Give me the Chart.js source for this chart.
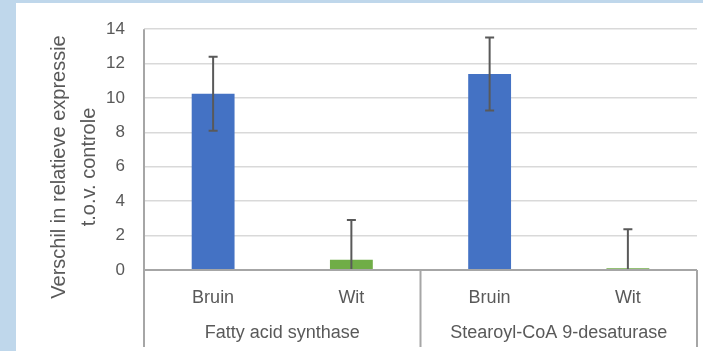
<!DOCTYPE html>
<html>
<head>
<meta charset="utf-8">
<script src="https://cdn.jsdelivr.net/npm/chart.js@4"></script>
<style>
  html, body { margin: 0; padding: 0; }
  body { width: 703px; height: 351px; background: #bfd7eb; position: relative; overflow: hidden; }
  #panel { position: absolute; left: 16px; top: 3px; right: 0; bottom: 0; background: #ffffff; }
  #wrap { position: absolute; left: 0; top: 0; width: 703px; height: 351px; }
</style>
</head>
<body>
<div id="panel"></div>
<div id="wrap"><canvas id="chart" width="703" height="351"></canvas></div>
<script>
// Relative expression difference vs. control, per gene and tissue type
const categories = ['Bruin', 'Wit', 'Bruin', 'Wit'];
const groups = ['Fatty acid synthase', 'Stearoyl-CoA 9-desaturase'];
const groupSize = 2;
const values = [10.25, 0.6, 11.4, 0.1];
const errors = [2.15, 2.3, 2.12, 2.27];
const barColors = ['#4472C4', '#70AD47', '#4472C4', '#70AD47'];
const yTicks = [0, 2, 4, 6, 8, 10, 12, 14];
const yTitle = ['Verschil in relatieve expressie', 't.o.v. controle'];

const TEXT = '#595959';
const AXIS = '#a6a6a6';
const FONT = '"Liberation Sans", Arial, sans-serif';

// Symmetric error bars, clipped to the plot area
const errorBars = {
  id: 'errorBars',
  afterDatasetsDraw(chart) {
    const ctx = chart.ctx, y = chart.scales.y, area = chart.chartArea;
    const meta = chart.getDatasetMeta(0);
    ctx.save();
    ctx.beginPath();
    ctx.rect(area.left, area.top - 2, area.right - area.left, area.bottom - area.top + 2);
    ctx.clip();
    ctx.strokeStyle = '#595959';
    ctx.lineWidth = 2;
    meta.data.forEach((bar, i) => {
      const x = bar.x;
      const hi = y.getPixelForValue(values[i] + errors[i]);
      const lo = y.getPixelForValue(values[i] - errors[i]);
      ctx.beginPath();
      ctx.moveTo(x, hi); ctx.lineTo(x, lo);
      ctx.moveTo(x - 4.5, hi); ctx.lineTo(x + 4.5, hi);
      ctx.moveTo(x - 4.5, lo); ctx.lineTo(x + 4.5, lo);
      ctx.stroke();
    });
    ctx.restore();
  }
};

// Two-level category axis, axis lines and the rotated y title
const axisDecor = {
  id: 'axisDecor',
  afterDraw(chart) {
    const ctx = chart.ctx, x = chart.scales.x, y = chart.scales.y, area = chart.chartArea;
    const y0 = y.getPixelForValue(0);
    const bottom = 347;
    const step = x.getPixelForValue(1) - x.getPixelForValue(0);
    ctx.save();
    ctx.strokeStyle = AXIS;
    ctx.lineWidth = 2;
    ctx.beginPath();
    ctx.moveTo(area.left, y0); ctx.lineTo(area.right, y0);
    ctx.moveTo(area.left, area.top); ctx.lineTo(area.left, bottom);
    for (let g = 1; g <= groups.length; g++) {
      const xb = x.getPixelForValue(g * groupSize - 1) + step / 2;
      ctx.moveTo(xb, y0); ctx.lineTo(xb, bottom);
    }
    ctx.stroke();

    ctx.fillStyle = TEXT;
    ctx.textAlign = 'center';
    ctx.textBaseline = 'middle';
    ctx.font = '18px ' + FONT;
    categories.forEach((c, i) => ctx.fillText(c, x.getPixelForValue(i), 298));
    groups.forEach((g, gi) => {
      const a = x.getPixelForValue(gi * groupSize);
      const b = x.getPixelForValue(gi * groupSize + groupSize - 1);
      ctx.fillText(g, (a + b) / 2, 333);
    });

    ctx.font = '20px ' + FONT;
    yTitle.forEach((line, li) => {
      ctx.save();
      ctx.translate(59 + li * 30, 167);
      ctx.rotate(-Math.PI / 2);
      ctx.fillText(line, 0, 0);
      ctx.restore();
    });
    ctx.restore();
  }
};

new Chart(document.getElementById('chart'), {
  type: 'bar',
  data: {
    labels: categories,
    datasets: [{
      data: values,
      backgroundColor: barColors,
      borderWidth: 0,
      barPercentage: 0.31,
      categoryPercentage: 1.0
    }]
  },
  options: {
    responsive: false,
    animation: false,
    devicePixelRatio: 1,
    layout: { padding: { top: 28, right: 6, bottom: 81, left: 0 } },
    plugins: { legend: { display: false }, tooltip: { enabled: false }, title: { display: false } },
    scales: {
      x: { display: false },
      y: {
        min: 0,
        max: 14,
        afterFit(scale) { scale.width = 144; },
        afterBuildTicks(scale) { scale.ticks = yTicks.map(v => ({ value: v })); },
        border: { display: false },
        grid: { color: '#d9d9d9', lineWidth: 1.5, drawTicks: false },
        ticks: { color: TEXT, padding: 19, font: { size: 17, family: FONT } }
      }
    }
  },
  plugins: [errorBars, axisDecor]
});
</script>
</body>
</html>
